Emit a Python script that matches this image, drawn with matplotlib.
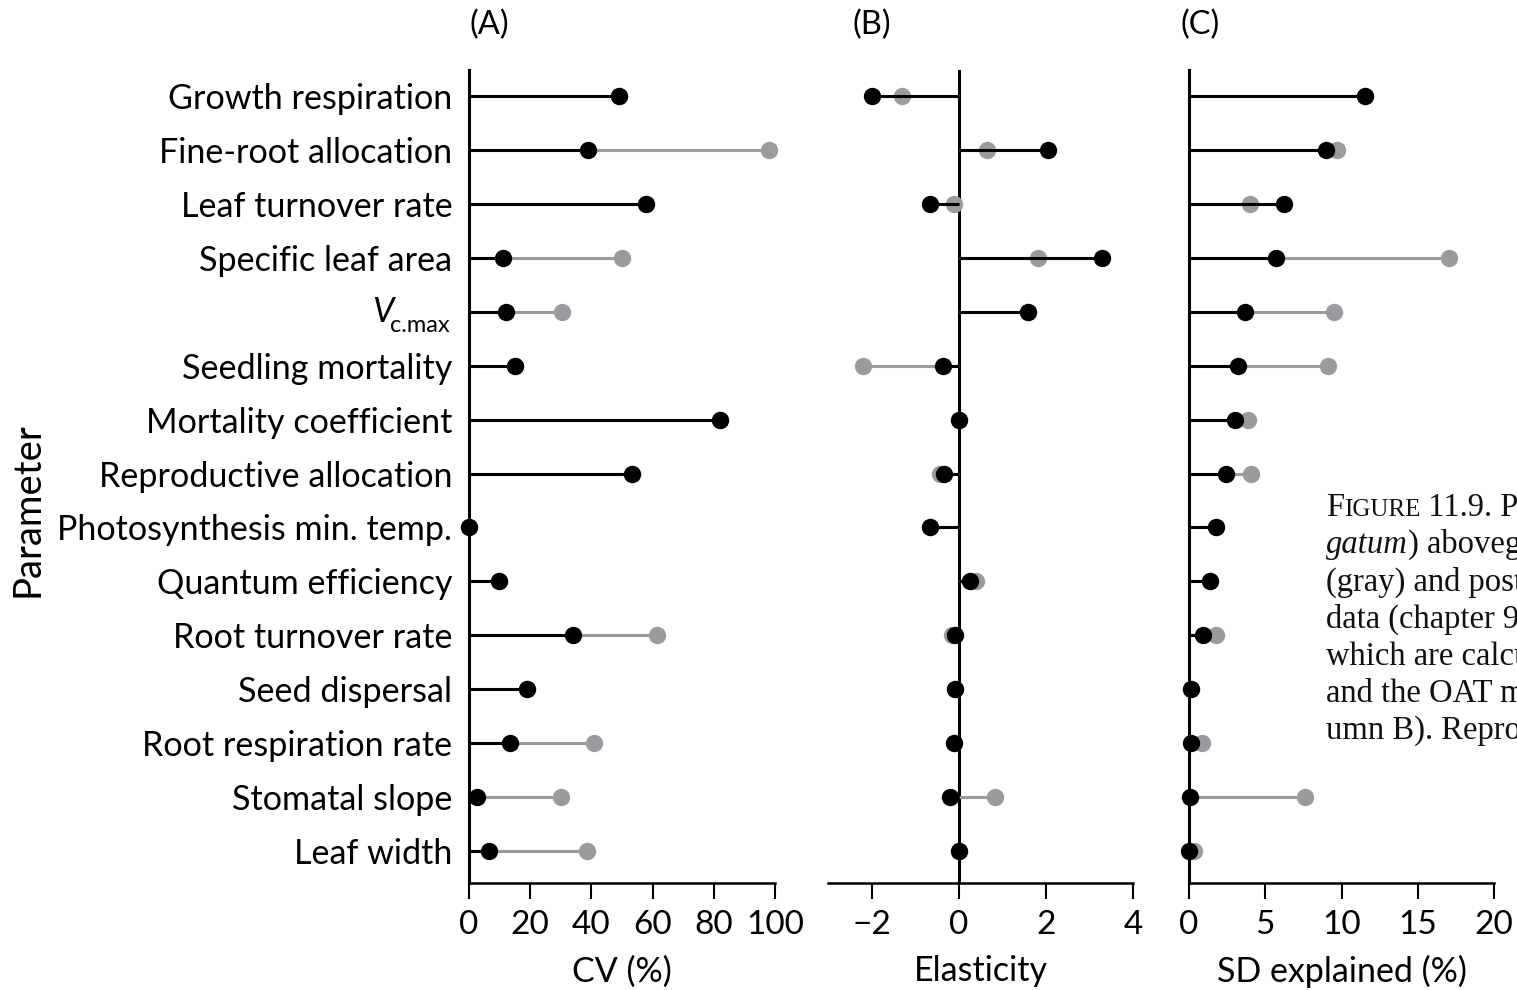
import matplotlib
matplotlib.use("Agg")
import matplotlib.pyplot as plt

plt.rcParams["font.family"] = ["Lato", "DejaVu Sans"]

# Parameters, top to bottom; a (symbol, subscript) pair is set as a subscripted symbol
params = ["Growth respiration", "Fine-root allocation", "Leaf turnover rate",
          "Specific leaf area", ("V", "c.max"), "Seedling mortality",
          "Mortality coefficient", "Reproductive allocation",
          "Photosynthesis min. temp.", "Quantum efficiency", "Root turnover rate",
          "Seed dispersal", "Root respiration rate", "Stomatal slope", "Leaf width"]

# (A) coefficient of variation, %
cv_prior = [49, 98, 58, 50, 30.4, 15, 82, 53.3, 0, 9.8, 61.4, 19, 40.8, 30, 38.6]
cv_post = [49, 39, 58, 11, 12.1, 15, 82, 53.3, 0, 9.8, 34, 19, 13.4, 2.6, 6.5]

# (B) elasticity
elas_prior = [-1.30, 0.65, -0.11, 1.81, 1.60, -2.19, 0.0, -0.42, -0.67, 0.39,
              -0.15, -0.08, -0.10, 0.84, 0.0]
elas_post = [-1.99, 2.04, -0.66, 3.28, 1.60, -0.36, 0.0, -0.33, -0.67, 0.27,
             -0.08, -0.08, -0.10, -0.20, 0.0]

# (C) share of SD explained, %
sd_prior = [11.54, 9.68, 4.0, 17.05, 9.53, 9.09, 3.85, 4.05, 1.77, 1.38, 1.75,
            0.11, 0.87, 7.6, 0.3]
sd_post = [11.54, 8.96, 6.25, 5.70, 3.67, 3.24, 3.02, 2.4, 1.77, 1.38, 0.94,
           0.11, 0.10, 0.07, 0.0]

GRAY = "#9a9b9f"
LABEL_SIZE = 24.6
W, H = 1517, 990
fig = plt.figure(figsize=(W / 100, H / 100), dpi=100)
renderer = fig.canvas.get_renderer()

bottom = 1 - 883 / H
height = (883 - 70) / H
axA = fig.add_axes([469 / W, bottom, 306 / W, height])
axB = fig.add_axes([828 / W, bottom, 305 / W, height])
axC = fig.add_axes([1189 / W, bottom, 305 / W, height])

ypos = list(range(len(params)))


def lollipops(ax, prior, post):
    for y, p, q in zip(ypos, prior, post):
        ax.plot([0, p], [y, y], color=GRAY, lw=2.2, solid_capstyle="butt", zorder=2)
        ax.plot([p], [y], "o", color=GRAY, ms=12.5, mec="none", zorder=3, clip_on=False)
        ax.plot([0, q], [y, y], color="black", lw=2.2, solid_capstyle="butt", zorder=4)
        ax.plot([q], [y], "o", color="black", ms=12.5, mec="none", zorder=5, clip_on=False)


lollipops(axA, cv_prior, cv_post)
lollipops(axB, elas_prior, elas_post)
lollipops(axC, sd_prior, sd_post)

for ax in (axA, axB, axC):
    ax.set_ylim(14.59, -0.48)
    for s in ("top", "right"):
        ax.spines[s].set_visible(False)
    ax.spines["bottom"].set_linewidth(1.8)
    ax.spines["left"].set_linewidth(2.2)
    ax.tick_params(axis="x", direction="out", length=11.5, width=1.5,
                   labelsize=24, pad=8)

axA.set_xlim(0, 100)
axA.set_xticks([0, 20, 40, 60, 80, 100])
axA.set_yticks(ypos)
axA.set_yticklabels([p if isinstance(p, str) else "" for p in params])
axA.tick_params(axis="y", length=0, labelsize=LABEL_SIZE, pad=12)

# Subscripted parameter names, right-aligned with the other labels
for y, p in zip(ypos, params):
    if isinstance(p, str):
        continue
    sym, sub = p
    sub_t = axA.annotate(sub, xy=(0, y), xycoords=("axes fraction", "data"),
                         xytext=(-19, -20), textcoords="offset pixels",
                         ha="right", va="baseline", fontsize=17)
    bb = sub_t.get_window_extent(renderer)
    x0 = axA.transAxes.transform((0, 0))[0]
    axA.annotate(sym, xy=(0, y), xycoords=("axes fraction", "data"),
                 xytext=(bb.x0 - x0 + 3, -10), textcoords="offset pixels",
                 ha="right", va="baseline", fontsize=LABEL_SIZE, style="italic")

axB.set_xlim(-3, 4)
axB.set_xticks([-2, 0, 2, 4])
axB.spines["left"].set_visible(False)
axB.axvline(0, color="black", lw=2.2, zorder=1)
axB.set_yticks([])

axC.set_xlim(0, 20)
axC.set_xticks([0, 5, 10, 15, 20])
axC.set_yticks([])

axA.set_xlabel("CV (%)", fontsize=24.5, labelpad=11)
axB.set_xlabel("Elasticity", fontsize=24.5, labelpad=11)
axC.set_xlabel("SD explained (%)", fontsize=24.5, labelpad=11)

for label, xc in (("(A)", 489), ("(B)", 872), ("(C)", 1200)):
    fig.text(xc / W, 1 - 25 / H, label, ha="center", va="center", fontsize=23.5)

fig.text(28 / W, 1 - 510 / H, "Parameter", rotation=90, ha="center",
         va="center", fontsize=27.5)

# Caption running off the right edge
cap_font = "Liberation Serif"


def caption_line(pieces, x_px, base_px):
    x = x_px
    for s, size, style in pieces:
        t = fig.text(x / W, 1 - base_px / H, s, fontsize=size, style=style,
                     family=cap_font, va="baseline", ha="left", color="#111111")
        bb = t.get_window_extent(renderer)
        x = bb.x1


cap_x = 1326
lines = [
    [("F", 23.5, "normal"), ("IGURE", 18, "normal"), (" 11.9. P", 23.5, "normal")],
    [("gatum", 23.5, "italic"), (") aboveg", 23.5, "normal")],
    [("(gray) and post", 23.5, "normal")],
    [("data (chapter 9", 23.5, "normal")],
    [("which are calcu", 23.5, "normal")],
    [("and the OAT m", 23.5, "normal")],
    [("umn B). Reproc", 23.5, "normal")],
]
for i, pieces in enumerate(lines):
    caption_line(pieces, cap_x, 516 + i * 37.2)

fig.savefig("out.png", dpi=100)
